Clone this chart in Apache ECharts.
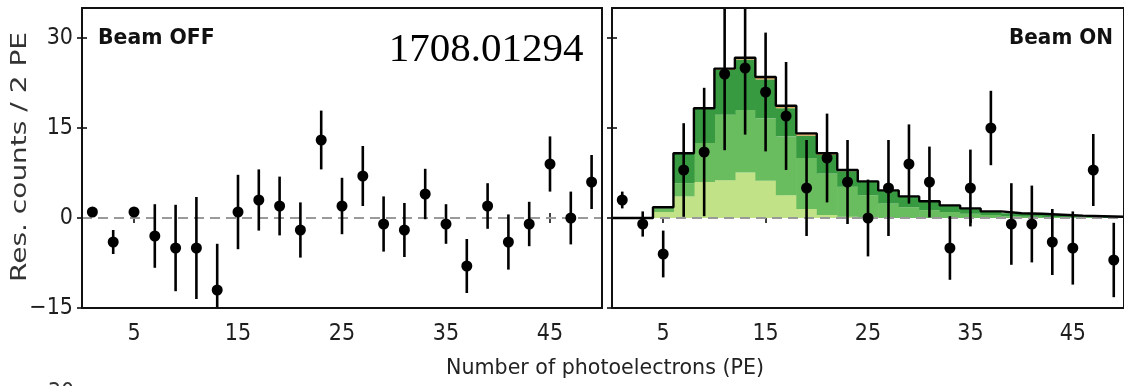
<!DOCTYPE html>
<html>
<head>
<meta charset="utf-8">
<script src="https://cdn.jsdelivr.net/npm/echarts@6/dist/echarts.min.js"></script>
<style>
html,body{margin:0;padding:0;background:#fff;}
#chart{width:1124px;height:386px;}
</style>
</head>
<body>
<div id="chart"></div>
<script>
// ---------------- data ----------------
const xTicks = [5, 15, 25, 35, 45];
const yTicks = [-15, 0, 15, 30];
const pePoints = [1,3,5,7,9,11,13,15,17,19,21,23,25,27,29,31,33,35,37,39,41,43,45,47,49];

const beamOff    = [1,-4,1,-3,-5,-5,-12,1,3,2,-2,13,2,7,-1,-2,4,-1,-8,2,-4,-1,9,0,6];
const beamOffErr = [0.5,2,0.5,5.3,7.2,8.5,7.7,6.2,5.1,4.9,4.6,4.9,4.7,5,4.6,4.5,4.2,3.3,4.5,3.8,4.6,3.7,4.6,4.4,4.5];

const beamOn     = [3,-1,-6,8,11,24,25,21,17,5,10,6,0,5,9,6,-5,5,15,-1,-1,-4,-5,8,-7];
const beamOnErr  = [1.4,2.1,3.9,7.8,10.7,12.7,11.1,9.9,9,8,7.4,7,6.4,8,6.6,5.9,5.3,6.4,6.2,6.8,6.4,5.5,6.1,6,6.2];

// histogram bins (2 PE wide), stacked prediction layers
const binStart    = [0,2,4,6,8,10,12,14,16,18,20,22,24,26,28,30,32,34,36,38,40,42,44,46,48];
const layerLight  = [0,0,1.0,3.6,6.0,6.3,7.6,6.2,3.8,1.5,0.5,0.2,0.1,0,0,0,0,0,0,0,0,0,0,0,0];
const layerMedium = [0,0,0.6,2.2,6.5,10.9,10.4,10.4,9.8,8.5,6.9,5.0,3.7,2.4,1.8,1.3,1.0,0.7,0.5,0.3,0.2,0.15,0.1,0.05,0];
const layerDark   = [0,0,0.2,5.0,5.8,7.5,8.4,6.5,4.7,3.7,3.1,2.6,2.3,2.2,1.8,1.5,1.1,0.9,0.6,0.5,0.5,0.4,0.3,0.25,0.2];
const layerOrange = [0,0,0,0,0,0.2,0.3,0.4,0.4,0.4,0.3,0.2,0,0,0,0,0,0,0,0,0,0,0,0,0];
const binWidth = 2;

// ---------------- build ----------------
const FONT = "'DejaVu Sans Condensed','DejaVu Sans',sans-serif";
const FONT_REG = "'DejaVu Sans',sans-serif";
const layers = [
  {vals: layerLight,  color: '#c2e287'},
  {vals: layerMedium, color: '#6abd5e'},
  {vals: layerDark,   color: '#389a40'},
  {vals: layerOrange, color: '#d8a860'}
];
const cum = binStart.map(() => 0);
const histSeries = layers.map((ly, li) => {
  const data = binStart.map((b, i) => {
    const y0 = cum[i];
    const y1 = y0 + ly.vals[i];
    cum[i] = y1;
    return [b, b + binWidth, y0, y1];
  });
  return {
    type: 'custom', xAxisIndex: 2, yAxisIndex: 2, z: 1 + li * 0.01, silent: true,
    encode: {x: [0, 1], y: [2, 3]},
    data: data,
    renderItem: function (params, api) {
      const a = api.coord([api.value(0), api.value(3)]);
      const b = api.coord([api.value(1), api.value(2)]);
      if (api.value(3) - api.value(2) <= 0) return null;
      return {type: 'rect', shape: {x: a[0], y: a[1], width: b[0] - a[0] + 0.6, height: b[1] - a[1]},
        style: {fill: ly.color}};
    }
  };
});
// outline of total prediction
const outline = binStart.map((b, i) => [b, cum[i]]);
outline.push([binStart[binStart.length - 1] + binWidth, cum[cum.length - 1]]);

function errSeries(vals, errs, xi, yi) {
  return {
    type: 'custom', xAxisIndex: xi, yAxisIndex: yi, z: 5, silent: true,
    encode: {x: 0, y: 1},
    data: pePoints.map((x, i) => [x, vals[i], errs[i]]),
    renderItem: function (params, api) {
      const x = api.value(0), y = api.value(1), e = api.value(2);
      const t = api.coord([x, y + e]);
      const bt = api.coord([x, y - e]);
      const cs = params.coordSys;
      return {type: 'line', shape: {x1: t[0], y1: Math.max(t[1], cs.y), x2: bt[0], y2: Math.min(bt[1], cs.y + cs.height)},
        style: {stroke: '#000', lineWidth: 2.6}};
    }
  };
}
function dotSeries(vals, xi, yi) {
  return {type: 'scatter', xAxisIndex: xi, yAxisIndex: yi, z: 6, silent: true,
    symbol: 'circle', symbolSize: 11, itemStyle: {color: '#000', opacity: 1},
    data: pePoints.map((x, i) => [x, vals[i]])};
}
function zeroLine(xi, yi) {
  return {type: 'line', xAxisIndex: xi, yAxisIndex: yi, z: 3, silent: true, symbol: 'none',
    data: [[0, 0], [50, 0]], lineStyle: {color: '#9a9a9a', width: 2, type: [10, 6]}};
}

function xAx(grid, pos, labels) {
  return {type: 'value', gridIndex: grid, position: pos, min: 0, max: 50,
    axisLine: {show: false}, splitLine: {show: false},
    axisTick: {show: true, inside: true, length: 5, customValues: xTicks, lineStyle: {color: '#000', width: 1.5}},
    axisLabel: {show: labels, customValues: xTicks, margin: 15, color: '#1e1e1e', fontSize: 23, fontFamily: FONT}};
}
function yAx(grid, pos, labels) {
  return {type: 'value', gridIndex: grid, position: pos, min: -15, max: 35,
    axisLine: {show: false}, splitLine: {show: false},
    axisTick: {show: true, inside: true, length: 5, customValues: yTicks, lineStyle: {color: '#000', width: 1.5}},
    axisLabel: {show: labels, customValues: yTicks, margin: 9, color: '#1e1e1e', fontSize: 23, fontFamily: FONT,
      formatter: v => String(v).replace('-', '\u2212')}};
}

const option = {
  animation: false,
  backgroundColor: '#fff',
  grid: [
    {left: 82, top: 8, width: 520, height: 300, show: true, borderColor: '#111', borderWidth: 2, backgroundColor: 'transparent', z: 10},
    {left: 612, top: 8, width: 520, height: 300, show: true, borderColor: '#111', borderWidth: 2, backgroundColor: 'transparent', z: 10}
  ],
  xAxis: [xAx(0, 'bottom', true), xAx(0, 'top', false), xAx(1, 'bottom', true), xAx(1, 'top', false)],
  yAxis: [yAx(0, 'left', true), yAx(0, 'right', false), yAx(1, 'left', false), yAx(1, 'right', false)],
  series: [
    zeroLine(0, 0),
    errSeries(beamOff, beamOffErr, 0, 0),
    dotSeries(beamOff, 0, 0),
    ...histSeries,
    zeroLine(2, 2),
    {type: 'line', xAxisIndex: 2, yAxisIndex: 2, z: 4, silent: true, step: 'end', symbol: 'none',
      data: outline, lineStyle: {color: '#000', width: 2.4}},
    errSeries(beamOn, beamOnErr, 2, 2),
    dotSeries(beamOn, 2, 2)
  ],
  graphic: [
    {type: 'text', x: 20, y: 157, rotation: Math.PI / 2, scaleY: 0.78, z: 20,
      style: {text: 'Res. counts / 2 PE', textAlign: 'center', textVerticalAlign: 'middle', fill: '#333', font: "28px " + FONT_REG}},
    {type: 'text', x: 605, y: 369, scaleX: 1.09, z: 20,
      style: {text: 'Number of photoelectrons (PE)', textAlign: 'center', textVerticalAlign: 'middle', fill: '#222', font: "21px " + FONT}},
    {type: 'text', x: 98, y: 39, scaleX: 1.08, z: 20,
      style: {text: 'Beam OFF', textAlign: 'left', textVerticalAlign: 'middle', fill: '#111', font: "bold 21px " + FONT}},
    {type: 'text', x: 1113, y: 39, scaleX: 1.06, z: 20,
      style: {text: 'Beam ON', textAlign: 'right', textVerticalAlign: 'middle', fill: '#111', font: "bold 21px " + FONT}},
    {type: 'text', x: 486, y: 50, z: 20,
      style: {text: '1708.01294', textAlign: 'center', textVerticalAlign: 'middle', fill: '#000', font: "41px 'Liberation Serif','Times New Roman',serif"}},
    {type: 'text', x: 61, y: 382, z: 20,
      style: {text: '30', textAlign: 'center', textVerticalAlign: 'top', fill: '#333', font: "23px " + FONT}}
  ]
};
const chart = echarts.init(document.getElementById('chart'), null, {renderer: 'canvas'});
chart.setOption(option);
</script>
</body>
</html>
